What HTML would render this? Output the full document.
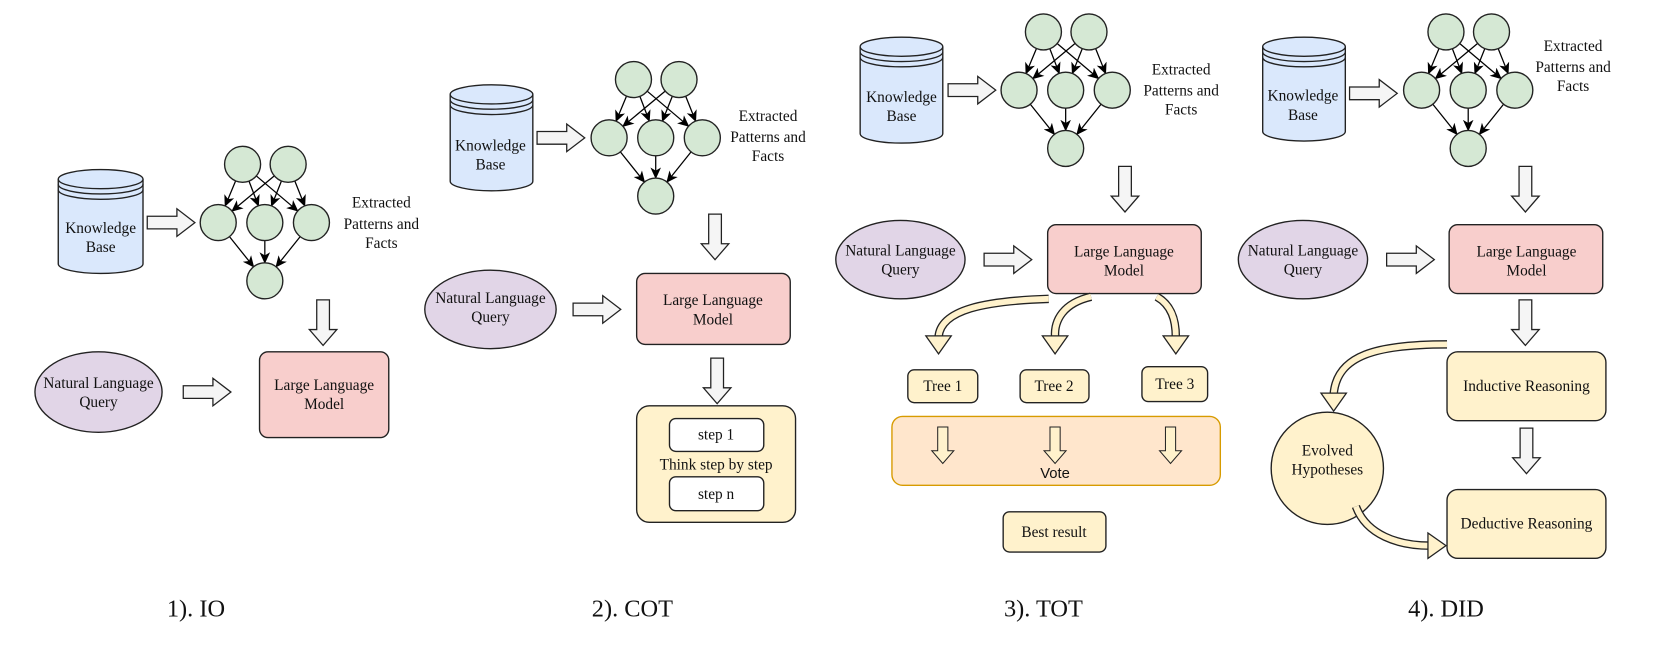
<!DOCTYPE html>
<html><head><meta charset="utf-8"><style>
html,body{margin:0;padding:0;background:#fff;}
svg{display:block}
text{font-family:"Liberation Serif","Times New Roman",serif;font-size:14.5px;fill:#111;text-anchor:middle}
.lab{font-size:23px}
</style></head><body>
<svg id="s" width="1661" height="657" viewBox="0 0 1568 620" xmlns="http://www.w3.org/2000/svg">
<defs>
<marker id="ah" markerWidth="12" markerHeight="12" refX="10" refY="6" orient="auto" markerUnits="userSpaceOnUse"><path d="M0,1 L11,6 L0,11 L3,6 Z" fill="#000"/></marker>
</defs>
<g id="shapes"></g>

<!-- Panel 1 -->
<text x="95" y="220">Knowledge</text><text x="95" y="238">Base</text>
<text x="360" y="196">Extracted</text><text x="360" y="216">Patterns and</text><text x="360" y="234">Facts</text>
<text x="93" y="366">Natural Language</text><text x="93" y="384">Query</text>
<text x="306" y="368">Large Language</text><text x="306" y="386">Model</text>
<text class="lab" x="185" y="582">1). IO</text>

<!-- Panel 2 -->
<text x="463" y="142">Knowledge</text><text x="463" y="160">Base</text>
<text x="725" y="114">Extracted</text><text x="725" y="134">Patterns and</text><text x="725" y="152">Facts</text>
<text x="463" y="286">Natural Language</text><text x="463" y="304">Query</text>
<text x="673" y="288">Large Language</text><text x="673" y="306">Model</text>
<text x="676" y="415">step 1</text>
<text x="676" y="443">Think step by step</text>
<text x="676" y="471">step n</text>
<text class="lab" x="597" y="582">2). COT</text>

<!-- Panel 3 -->
<text x="851" y="96">Knowledge</text><text x="851" y="114">Base</text>
<text x="1115" y="70">Extracted</text><text x="1115" y="90">Patterns and</text><text x="1115" y="108">Facts</text>
<text x="850" y="241">Natural Language</text><text x="850" y="259">Query</text>
<text x="1061" y="242">Large Language</text><text x="1061" y="260">Model</text>
<text x="890" y="369">Tree 1</text><text x="995" y="369">Tree 2</text><text x="1109" y="367">Tree 3</text>
<text x="996" y="451" style="font-family:'Liberation Sans',sans-serif;font-size:14px">Vote</text>
<text x="995" y="507">Best result</text>
<text class="lab" x="985" y="582">3). TOT</text>

<!-- Panel 4 -->
<text x="1230" y="95">Knowledge</text><text x="1230" y="113">Base</text>
<text x="1485" y="48">Extracted</text><text x="1485" y="68">Patterns and</text><text x="1485" y="86">Facts</text>
<text x="1230" y="241">Natural Language</text><text x="1230" y="259">Query</text>
<text x="1441" y="242">Large Language</text><text x="1441" y="260">Model</text>
<text x="1441" y="369">Inductive Reasoning</text>
<text x="1441" y="499">Deductive Reasoning</text>
<text x="1253" y="430">Evolved</text><text x="1253" y="448">Hypotheses</text>
<text class="lab" x="1365" y="582">4). DID</text>
</svg>
<script>
var g=document.getElementById('shapes'),h='';
function cyl(x,y,w,hh){var rx=w/2,ry=9,cx=x+rx;
h+='<path d="M'+x+','+(y+ry)+' V'+(y+hh-ry)+' A'+rx+','+ry+' 0 0 0 '+(x+w)+','+(y+hh-ry)+' V'+(y+ry)+'" fill="#dae8fc" stroke="#222" stroke-width="1.3"/>';
h+='<ellipse cx="'+cx+'" cy="'+(y+ry)+'" rx="'+rx+'" ry="'+ry+'" fill="#dae8fc" stroke="#222" stroke-width="1.3"/>';
for(var k=1;k<=2;k++)h+='<path d="M'+x+','+(y+ry+k*5)+' A'+rx+','+ry+' 0 0 0 '+(x+w)+','+(y+ry+k*5)+'" fill="none" stroke="#222" stroke-width="1.3"/>';}
function ra(x,y,col){h+='<path transform="translate('+x+','+y+')" d="M0,-6 H28 V-13 L45,0 L28,13 V6 H0 Z" fill="'+(col||'#f5f5f5')+'" stroke="#222" stroke-width="1.2"/>';}
function da(x,y,col,s){s=s||1;h+='<path transform="translate('+x+','+y+') scale('+s+')" d="M-6,0 V28 H-13 L0,43 L13,28 H6 V0 Z" fill="'+(col||'#f5f5f5')+'" stroke="#222" stroke-width="1.2"/>';}
function graph(cx,cy){var r=17,T=[[cx-21,cy-55],[cx+22,cy-55]],M=[[cx-44,cy],[cx,cy],[cx+44,cy]],B=[cx,cy+55];
function ed(a,b){var dx=b[0]-a[0],dy=b[1]-a[1],L=Math.hypot(dx,dy),ux=dx/L,uy=dy/L;
h+='<line x1="'+(a[0]+ux*r)+'" y1="'+(a[1]+uy*r)+'" x2="'+(b[0]-ux*r)+'" y2="'+(b[1]-uy*r)+'" stroke="#000" stroke-width="1.2" marker-end="url(#ah)"/>';}
T.forEach(function(t){M.forEach(function(m){ed(t,m);});});M.forEach(function(m){ed(m,B);});
T.concat(M,[B]).forEach(function(p){h+='<circle cx="'+p[0]+'" cy="'+p[1]+'" r="'+r+'" fill="#d5e8d4" stroke="#222" stroke-width="1.3"/>';});}
function box(x,y,w,hh,fill,stroke,r){h+='<rect x="'+x+'" y="'+y+'" width="'+w+'" height="'+hh+'" rx="'+(r||8)+'" fill="'+fill+'" stroke="'+(stroke||'#222')+'" stroke-width="1.3"/>';}
function ell(cx,cy,rx,ry,fill){h+='<ellipse cx="'+cx+'" cy="'+cy+'" rx="'+rx+'" ry="'+ry+'" fill="'+fill+'" stroke="#222" stroke-width="1.3"/>';}
function curve(d,hx,hy,ang){h+='<path d="'+d+'" fill="none" stroke="#222" stroke-width="8" stroke-linecap="butt"/><path d="'+d+'" fill="none" stroke="#fff2cc" stroke-width="5.5"/>';
h+='<path transform="translate('+hx+','+hy+') rotate('+ang+')" d="M-12,0 L12,0 L0,17 Z" fill="#fff2cc" stroke="#222" stroke-width="1.2"/>';}
var P='#f8cecc',Pu='#e1d5e7',Y='#fff2cc';
// Panel1
cyl(55,160,80,98);ra(139,210);graph(250,210);da(305,283);ell(93,370,60,38,Pu);ra(173,370);box(245,332,122,81,P);
// Panel2
cyl(425,80,78,100);ra(507,130);graph(619,130);da(675,202);ell(463,292,62,37,Pu);ra(541,292);box(601,258,145,67,P);
da(677,338);box(601,383,150,110,Y,null,12);box(632,395,89,31,'#fff',null,6);box(632,450,89,32,'#fff',null,6);
// Panel3
cyl(812,35,78,100);ra(895,85);graph(1006,85);da(1062,157);ell(850,245,61,37,Pu);ra(929,245);box(989,212,145,65,P);
curve('M990,282 C930,284 888,292 886,318',886,317,0);
curve('M1030,280 C1004,286 995,302 996,318',996,317,0);
curve('M1092,280 C1106,288 1110,302 1110,318',1110,317,0);
box(857,349,66,31,Y,null,6);box(963,349,65,31,Y,null,6);box(1078,346,62,33,Y,null,6);
box(842,393,310,65,'#ffe6cc','#d79b00',10);da(890,403,Y,0.8);da(996,403,Y,0.8);da(1105,403,Y,0.8);
box(947,483,97,38,Y,null,6);
// Panel4
cyl(1192,35,78,98);ra(1274,88);graph(1386,85);da(1440,157);ell(1230,245,61,37,Pu);ra(1309,245);box(1368,212,145,65,P);
da(1440,283);box(1366,332,150,65,Y,null,10);da(1441,404);box(1366,462,150,65,Y,null,10);
ell(1253,442,53,53,Y);
curve('M1366,325 C1300,325 1262,335 1259,372',1259,371,0);
curve('M1280,478 C1290,505 1320,515 1350,515',1348,515,-90);
g.innerHTML=h;
</script>
</body></html>
